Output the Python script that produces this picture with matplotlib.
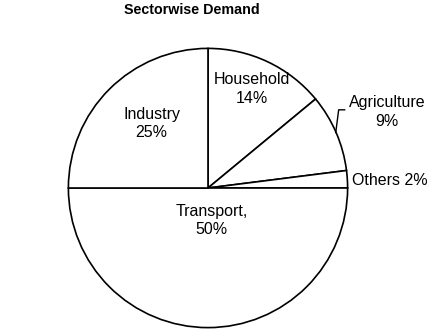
import matplotlib
matplotlib.use("Agg")
import matplotlib.pyplot as plt

plt.rcParams["font.family"] = ["Liberation Sans", "DejaVu Sans"]

# --- Data ---
sectors = ["Household", "Agriculture", "Others", "Transport", "Industry"]
shares = [14, 9, 2, 50, 25]
label_texts = ["Household\n14%", "Agriculture\n9%", "Others 2%", "Transport,\n50%", "Industry\n25%"]

# --- Plot ---
fig = plt.figure(figsize=(4.38, 3.36), dpi=100)
cx, cy, r = 208, 188, 141
ax = fig.add_axes([(cx - r) / 438, (336 - cy - r) / 336, 2 * r / 438, 2 * r / 336])

ax.pie(shares, startangle=90, counterclock=False, radius=1,
       colors=["white"] * len(shares),
       wedgeprops=dict(edgecolor="black", linewidth=1.2))
ax.set_xlim(-1.01, 1.01)
ax.set_ylim(-1.01, 1.01)
ax.set_aspect("equal")
ax.set_axis_off()

# label positions (data units of the pie)
label_pos = {
    "Household": (0.312, 0.709, "center"),
    "Agriculture": (1.284, 0.546, "center"),
    "Others": (1.028, 0.057, "left"),
    "Transport": (0.028, -0.234, "center"),
    "Industry": (-0.404, 0.461, "center"),
}
for name, txt in zip(sectors, label_texts):
    x, y, ha = label_pos[name]
    ax.text(x, y, txt, ha=ha, va="center", fontsize=11.5,
            linespacing=1.3, clip_on=False)

# leader line for Agriculture
ax.plot([0.915, 0.936, 0.979], [0.397, 0.560, 0.560],
        color="black", linewidth=1.0, clip_on=False)

fig.text(192 / 438, 1 - 10 / 336, "Sectorwise Demand", ha="center", va="center",
         fontsize=10.3, fontweight="bold")

plt.savefig("out.png", dpi=100)
